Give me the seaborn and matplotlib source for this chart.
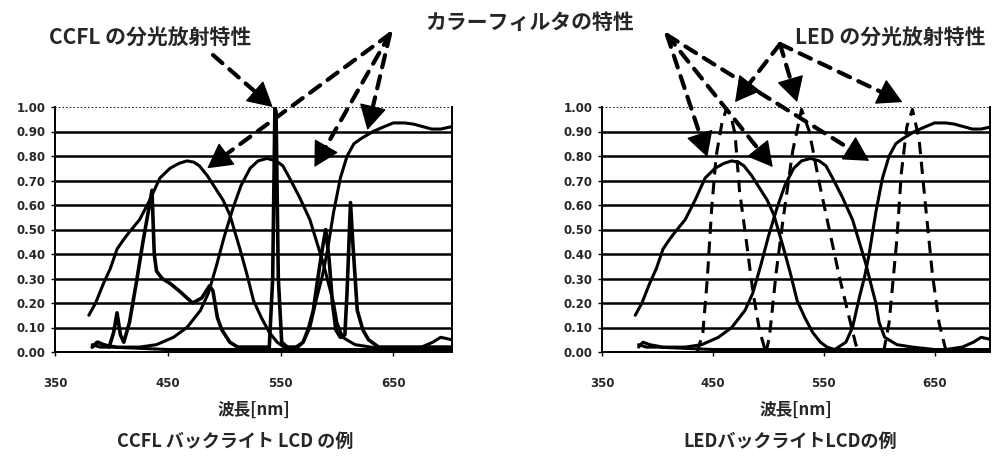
import numpy as np
import matplotlib
matplotlib.use("Agg")
import matplotlib.pyplot as plt
import seaborn as sns

# ---------------- data ----------------
blue_filter_wl = [380, 386, 393, 399, 405, 411, 416, 425, 434, 443, 452, 460, 467, 473, 478,
                  485, 492, 499, 505, 514, 520, 526, 533, 540, 547, 553, 560, 575, 600, 630,
                  660, 675, 685, 692, 702]
blue_filter_t = [0.15, 0.20, 0.28, 0.34, 0.42, 0.46, 0.49, 0.54, 0.62, 0.71, 0.75, 0.77, 0.78, 0.775, 0.76,
                 0.72, 0.67, 0.62, 0.56, 0.42, 0.32, 0.21, 0.14, 0.08, 0.04, 0.02, 0.01, 0.01, 0.01, 0.01,
                 0.01, 0.02, 0.04, 0.06, 0.05]

green_filter_wl = [383, 387, 393, 405, 425, 440, 455, 467, 479, 486, 493, 500, 508, 515, 523,
                   530, 538, 546, 552, 558, 567, 576, 582, 588, 593, 597, 600, 605, 616, 630,
                   650, 680, 702]
green_filter_t = [0.02, 0.04, 0.03, 0.02, 0.02, 0.03, 0.06, 0.10, 0.17, 0.24, 0.35, 0.47, 0.59, 0.68, 0.75,
                  0.78, 0.79, 0.78, 0.76, 0.71, 0.63, 0.54, 0.45, 0.36, 0.27, 0.20, 0.12, 0.06, 0.03, 0.02,
                  0.01, 0.01, 0.01]

red_filter_wl = [383, 390, 400, 450, 500, 540, 560, 570, 576, 582, 587, 591, 597, 603, 609,
                 615, 621, 632, 642, 650, 660, 668, 676, 684, 692, 702]
red_filter_t = [0.03, 0.02, 0.02, 0.01, 0.01, 0.01, 0.01, 0.04, 0.10, 0.22, 0.31, 0.40, 0.57, 0.71, 0.80,
                0.85, 0.87, 0.90, 0.92, 0.935, 0.935, 0.93, 0.92, 0.91, 0.91, 0.92]

ccfl_wl = [383, 388, 398, 402, 405, 408, 411, 416, 422, 428, 433, 436, 438, 440, 445, 452, 460, 472,
           480, 487, 490, 494, 498, 505, 512, 530, 540, 543, 545, 546, 548, 551, 556, 565, 570, 575,
           579, 583, 587, 590, 593, 596, 599, 603, 607, 609, 612, 614, 618, 623, 628, 637, 660, 680, 702]
ccfl_i = [0.02, 0.04, 0.02, 0.08, 0.16, 0.07, 0.04, 0.12, 0.28, 0.45, 0.58, 0.66, 0.40, 0.33, 0.30, 0.28, 0.25, 0.20,
          0.22, 0.27, 0.25, 0.14, 0.09, 0.04, 0.02, 0.02, 0.02, 0.30, 1.00, 0.98, 0.30, 0.04, 0.02, 0.02, 0.04, 0.10,
          0.17, 0.30, 0.42, 0.50, 0.38, 0.20, 0.09, 0.06, 0.07, 0.25, 0.61, 0.45, 0.17, 0.09, 0.05, 0.02, 0.02, 0.02, 0.02]

led_blue_wl = [436, 441, 445, 449, 453, 458, 462, 466, 470, 474, 480, 486, 492, 497]
led_blue_i = [0.00, 0.08, 0.30, 0.59, 0.80, 0.93, 0.99, 0.97, 0.89, 0.66, 0.46, 0.25, 0.09, 0.01]

led_green_wl = [498, 501, 507, 513, 522, 530, 537, 546, 555, 564, 573, 579, 583]
led_green_i = [0.00, 0.06, 0.32, 0.53, 0.82, 0.99, 0.90, 0.69, 0.50, 0.31, 0.14, 0.03, 0.00]

led_red_wl = [604, 609, 616, 620, 625, 630, 636, 642, 648, 654, 660]
led_red_i = [0.00, 0.12, 0.46, 0.73, 0.92, 0.99, 0.87, 0.59, 0.32, 0.12, 0.01]

y_ticks = [0.0, 0.1, 0.2, 0.3, 0.4, 0.5, 0.6, 0.7, 0.8, 0.9, 1.0]
y_tick_labels = ["0.00", "0.10", "0.20", "0.30", "0.40", "0.50", "0.60", "0.70", "0.80", "0.90", "1.00"]
x_ticks = [350, 450, 550, 650]
x_tick_labels = ["350", "450", "550", "650"]

label_ccfl = "CCFL の分光放射特性"
label_filter = "カラーフィルタの特性"
label_led = "LED の分光放射特性"
xlabel = "波長[nm]"
title_left = "CCFL バックライト LCD の例"
title_right = "LEDバックライトLCDの例"

# ---------------- style ----------------
sns.set_theme(style="white")
plt.rcParams['font.family'] = ['Noto Sans CJK JP', 'DejaVu Sans']

W, H = 1008, 458
fig = plt.figure(figsize=(W / 100, H / 100), dpi=100)
fig.patch.set_facecolor("white")

ax_l = fig.add_axes([55 / W, (H - 352) / H, 397 / W, 245 / H])
ax_r = fig.add_axes([602 / W, (H - 352) / H, 388 / W, 245 / H])

LW = 2.2
for ax, xmax in ((ax_l, 702), (ax_r, 700)):
    ax.set_facecolor("white")
    for yv in y_ticks[1:-1]:
        ax.axhline(yv, color="black", lw=1.8, zorder=1)
    ax.axhline(1.0, color="black", lw=1.2, ls=(0, (1, 1.2)), zorder=1)
    sns.lineplot(x=blue_filter_wl, y=blue_filter_t, ax=ax, color="black", lw=LW, zorder=3)
    sns.lineplot(x=green_filter_wl, y=green_filter_t, ax=ax, color="black", lw=LW, zorder=3)
    sns.lineplot(x=red_filter_wl, y=red_filter_t, ax=ax, color="black", lw=LW, zorder=3)
    ax.set_xlim(350, xmax)
    ax.set_ylim(0, 1.0)
    ax.set_yticks(y_ticks)
    ax.set_yticklabels(y_tick_labels, fontsize=8.5, fontweight="bold", family="DejaVu Sans")
    ax.set_xticks(x_ticks)
    ax.set_xticklabels(x_tick_labels, fontsize=8.5, fontweight="bold", family="DejaVu Sans")
    ax.tick_params(axis="y", length=3, width=1, pad=4, left=True, color="black")
    ax.tick_params(axis="x", length=3, width=1, pad=15, bottom=True, color="black")
    for s in ("left", "bottom", "right"):
        ax.spines[s].set_visible(True)
        ax.spines[s].set_color("black")
        ax.spines[s].set_linewidth(1.4)
    ax.spines["top"].set_visible(False)
    ax.set_xlabel(xlabel, fontsize=12, fontweight="bold", labelpad=8)
    ax.set_ylabel("")

sns.lineplot(x=ccfl_wl, y=ccfl_i, ax=ax_l, color="black", lw=2.6, zorder=4)
for wl, iv in ((led_blue_wl, led_blue_i), (led_green_wl, led_green_i), (led_red_wl, led_red_i)):
    sns.lineplot(x=wl, y=iv, ax=ax_r, color="black", lw=2.2, linestyle=(0, (4, 2.5)), zorder=4)

# ---------------- titles ----------------
fig.text(235 / W, 1 - 441 / H, title_left, ha="center", va="center", fontsize=13, fontweight="bold")
fig.text(790 / W, 1 - 441 / H, title_right, ha="center", va="center", fontsize=13, fontweight="bold")

fig.text(150 / W, 1 - 37 / H, label_ccfl, ha="center", va="center", fontsize=15, fontweight="bold")
fig.text(530 / W, 1 - 22 / H, label_filter, ha="center", va="center", fontsize=15, fontweight="bold")
fig.text(890 / W, 1 - 37 / H, label_led, ha="center", va="center", fontsize=15, fontweight="bold")


# ---------------- annotation arrows ----------------
def arrow(ax, start_px, tip_data, head=16):
    tip = np.array(ax.transData.transform(tip_data))
    start = np.array([start_px[0], H - start_px[1]], dtype=float)
    d = tip - start
    u = d / np.hypot(*d)
    base = tip - u * head
    fig.add_artist(matplotlib.patches.FancyArrowPatch(
        tuple(start), tuple(base), transform=None, arrowstyle="-",
        linestyle=(0, (3, 2.2)), lw=3.0, color="black", shrinkA=0, shrinkB=0, zorder=10))
    fig.add_artist(matplotlib.patches.FancyArrowPatch(
        tuple(base - u * 2), tuple(tip), transform=None,
        arrowstyle="-|>,head_length=1.0,head_width=0.55", mutation_scale=head,
        lw=1, color="black", shrinkA=0, shrinkB=0, zorder=10))


arrow(ax_l, (213, 55), (543, 1.0))
arrow(ax_l, (390, 34), (485, 0.75))
arrow(ax_l, (390, 34), (580, 0.755))
arrow(ax_l, (390, 34), (627, 0.906))
arrow(ax_r, (667, 35), (445, 0.796))
arrow(ax_r, (667, 35), (504, 0.755))
arrow(ax_r, (667, 35), (591, 0.78))
arrow(ax_r, (780, 44), (470, 1.02))
arrow(ax_r, (780, 44), (526, 1.02))
arrow(ax_r, (780, 44), (621, 1.02))

fig.savefig("out.png", dpi=100, facecolor="white")
